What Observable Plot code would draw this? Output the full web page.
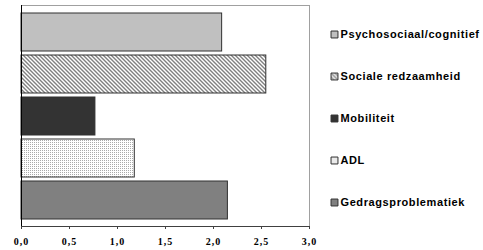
<!DOCTYPE html>
<html>
<head>
<meta charset="utf-8">
<script src="https://cdn.jsdelivr.net/npm/d3@7"></script>
<script src="https://cdn.jsdelivr.net/npm/@observablehq/plot@0.6"></script>
<style>
  html, body { margin: 0; padding: 0; background: #fff; }
  svg { display: block; }
</style>
</head>
<body>
<div id="chart"></div>
<script>
const categories = ["Psychosociaal/cognitief", "Sociale redzaamheid", "Mobiliteit", "ADL", "Gedragsproblematiek"];
const values = [2.09, 2.55, 0.77, 1.18, 2.15];
const xTicks = [0, 0.5, 1, 1.5, 2, 2.5, 3];
const tickLabels = ["0,0", "0,5", "1,0", "1,5", "2,0", "2,5", "3,0"];
const fills = ["#c0c0c0", "url(#hatch)", "#333333", "url(#dots)", "#808080"];

const data = categories.map((c, i) => ({cat: c, value: values[i]}));

const chart = Plot.plot({
  width: 483,
  height: 250,
  marginLeft: 21,
  marginRight: 174,
  marginTop: 5,
  marginBottom: 24,
  style: {fontFamily: "'Liberation Sans', Arial, sans-serif", background: "#fff"},
  x: {domain: [0, 3], axis: null},
  y: {domain: categories, paddingInner: 0.1, paddingOuter: 0.13, axis: null},
  color: {domain: categories, range: fills},
  marks: [
    Plot.barX(data, {x: "value", y: "cat", fill: "cat", stroke: "#303030", strokeWidth: 1}),
    Plot.frame({stroke: "#a0a0a0"}),
    Plot.frame({anchor: "left", stroke: "#000"}),
    Plot.frame({anchor: "bottom", stroke: "#404040"}),
    Plot.axisX({
      ticks: xTicks,
      tickSize: 3,
      tickPadding: 8,
      label: null,
      tickFormat: d => tickLabels[xTicks.indexOf(d)],
      fontFamily: "'Liberation Serif', 'Times New Roman', serif",
      fontWeight: "bold",
      fontSize: 10,
      stroke: "#404040",
      className: "tick-labels"
    }),
    Plot.dot(data, {y: "cat", frameAnchor: "right", dx: 25, dy: 2, symbol: "square", r: 3.9, fill: "cat", stroke: "#303030", strokeWidth: 1}),
    Plot.text(data, {y: "cat", text: "cat", frameAnchor: "right", dx: 31, dy: 2, textAnchor: "start", fontWeight: "bold", fontSize: 11, fill: "#000", className: "legend-text"})
  ]
});

const svg = d3.select(chart);
svg.selectAll("g.legend-text text, .legend-text text").attr("letter-spacing", "0.6");
svg.selectAll("g.tick-labels text, .tick-labels text").attr("letter-spacing", "1");
const defs = svg.insert("defs", ":first-child");
const hatch = defs.append("pattern").attr("id", "hatch").attr("patternUnits", "userSpaceOnUse").attr("width", 4).attr("height", 4);
hatch.append("rect").attr("width", 4).attr("height", 4).attr("fill", "#fff");
hatch.append("path").attr("d", "M0,0L4,4M-1,3L1,5M3,-1L5,1").attr("stroke", "#808080").attr("stroke-width", 1.4);
const dots = defs.append("pattern").attr("id", "dots").attr("patternUnits", "userSpaceOnUse").attr("width", 2).attr("height", 2);
dots.append("rect").attr("width", 2).attr("height", 2).attr("fill", "#fff");
dots.append("rect").attr("width", 1).attr("height", 1).attr("fill", "#aaa");

document.getElementById("chart").appendChild(chart);
</script>
</body>
</html>
